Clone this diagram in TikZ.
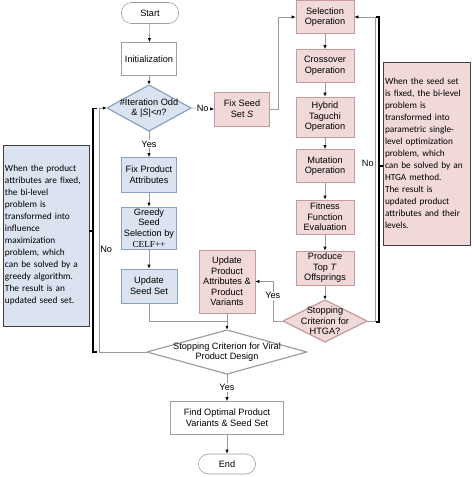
\documentclass[tikz,border=0pt]{standalone}
\usepackage{fontspec}
\setmainfont{Liberation Sans}
\newfontfamily\notefont{Carlito}
\newfontfamily\celffont{Liberation Serif}
\usepackage{tikz}
\usetikzlibrary{arrows.meta, calc}
\usepackage{xcolor}
\definecolor{blueFill}{HTML}{DAE3EF}
\definecolor{blueLine}{HTML}{8AA2C2}
\definecolor{pinkFill}{HTML}{F1D9D9}
\definecolor{pinkLine}{HTML}{C79B9B}
\definecolor{flowLine}{HTML}{9A9A9A}
\newcommand{\flowfont}{\fontsize{9.2pt}{10.6pt}\selectfont}
\newcommand{\notesize}{\notefont\fontsize{9.3pt}{12pt}\selectfont}
\tikzstyle{box} = [
    rectangle, draw=gray!75, fill=white, align=center, inner sep=1pt,
    font=\flowfont, line width=0.6pt
]
\tikzstyle{bluebox} = [box, draw=blueLine, fill=blueFill]
\tikzstyle{pinkbox} = [box, draw=pinkLine, fill=pinkFill]
\tikzstyle{terminal} = [box, rounded corners=10pt, minimum width=57pt, minimum height=21pt]
\tikzstyle{decision} = [
    rectangle, inner sep=0pt, align=center, font=\flowfont,
    path picture={\filldraw[line width=1.2pt, #1]
        (path picture bounding box.north) -- (path picture bounding box.east) --
        (path picture bounding box.south) -- (path picture bounding box.west) -- cycle;}
]
\tikzstyle{note} = [
    rectangle, draw=black!75, line width=0.8pt, align=left, inner xsep=2pt,
    inner ysep=3pt, font=\notesize
]
\tikzstyle{arrow} = [-{Latex[length=4pt, width=3.2pt, color=black]}, line width=0.6pt, color=flowLine]
\tikzstyle{line} = [line width=0.6pt, color=flowLine]
\tikzstyle{bracket} = [line width=1.4pt, black]
\tikzstyle{tag} = [font=\flowfont, text=black, fill=white, inner sep=1pt]
\tikzstyle{lbl} = [font=\flowfont, text=black, inner sep=1pt]

\begin{document}
\begin{tikzpicture}[x=1pt, y=-1pt]
    \useasboundingbox (0,0) rectangle (474,477);

    % Main column
    \node[terminal] (start) at (150,13) {Start};
    \node[box, minimum width=55pt, minimum height=33pt] (init) at (149,59) {Initialization};
    \node[decision={draw=blueLine, fill=blueFill}, minimum width=84pt, minimum height=46pt] (iter) at (149,108) {\#Iteration Odd\\\& |\textit{S}|<\textit{n}?};
    \node[bluebox, minimum width=55pt, minimum height=35pt] (fixattr) at (149,175) {Fix Product\\Attributes};
    \node[bluebox, minimum width=55pt, minimum height=42pt] (greedy) at (149,228) {Greedy\\Seed\\Selection by\\{\celffont CELF++}};
    \node[bluebox, minimum width=56pt, minimum height=34pt] (upseed) at (149,286) {Update\\Seed Set};

    % HTGA column
    \node[pinkbox, minimum width=55pt, minimum height=34pt] (fixseed) at (242,109) {Fix Seed\\Set \textit{S}};
    \node[pinkbox, minimum width=58pt, minimum height=33pt] (select) at (325,17) {Selection\\Operation};
    \node[pinkbox, minimum width=58pt, minimum height=33pt] (cross) at (325,66) {Crossover\\Operation};
    \node[pinkbox, minimum width=58pt, minimum height=40pt] (hybrid) at (325,117) {Hybrid\\Taguchi\\Operation};
    \node[pinkbox, minimum width=58pt, minimum height=33pt] (mutate) at (325,166) {Mutation\\Operation};
    \node[pinkbox, minimum width=58pt, minimum height=34pt] (fitness) at (325,217) {Fitness\\Function\\Evaluation};
    \node[pinkbox, minimum width=58pt, minimum height=34pt] (produce) at (325,268) {Produce\\Top \textit{T}\\Offsprings};
    \node[decision={draw=pinkLine, fill=pinkFill}, minimum width=84pt, minimum height=42pt] (htga) at (325,321) {Stopping\\Criterion for\\HTGA?};
    \node[pinkbox, minimum width=56pt, minimum height=63pt] (upprod) at (227,281.5) {Update\\Product\\Attributes \&\\Product\\Variants};

    % Bottom
    \node[decision={draw=gray!75, fill=white}, minimum width=160pt, minimum height=44pt] (viral) at (227,352) {Stopping Criterion for Viral\\Product Design};
    \node[box, minimum width=113pt, minimum height=33pt] (findopt) at (227,418) {Find Optimal Product\\Variants \& Seed Set};
    \node[terminal, minimum height=20pt] (endn) at (227,464) {End};

    % Notes
    \node[note, fill=blueFill, text width=82pt, minimum height=181pt] (leftnote) at (46,235.5) {When the product\\attributes are fixed,\\the bi-level\\problem is\\transformed into\\influence\\maximization\\problem, which\\can be solved by a\\greedy algorithm.\\The result is an\\updated seed set.};
    \node[note, fill=pinkFill, text width=83pt, minimum height=183pt] (rightnote) at (426.5,153.5) {When the seed set\\is fixed, the bi-level\\problem is\\transformed into\\parametric single-\\level optimization\\problem, which\\can be solved by an\\HTGA method.\\The result is\\updated product\\attributes and their\\levels.};

    % Main arrows
    \draw[arrow] (start) -- (init);
    \draw[arrow] (init) -- (iter);
    \draw[arrow] (iter.south) -- node[tag] {Yes} (fixattr.north);
    \draw[arrow] (fixattr) -- (greedy);
    \draw[arrow] (greedy) -- (upseed);
    \draw[arrow] (iter.east) -- node[tag] {No} (fixseed.west);

    % HTGA arrows
    \draw[arrow] (fixseed.east) -- ++(8,0) |- (select.west);
    \draw[arrow] (select) -- (cross);
    \draw[arrow] (cross) -- (hybrid);
    \draw[arrow] (hybrid) -- (mutate);
    \draw[arrow] (mutate) -- (fitness);
    \draw[arrow] (fitness) -- (produce);
    \draw[arrow] (produce) -- (htga.north);
    \draw[arrow] (htga.west) -- ++(-10,0) |- node[pos=0.32, tag] {Yes} (upprod.east);

    % Merge and loops
    \coordinate (merge) at (227,321);
    \coordinate (loopL) at (99,108);
    \coordinate (loopR) at (375,17);
    \draw[line] (upseed.south) |- (merge);
    \draw[arrow] (upprod.south) -- (viral.north);
    \draw[arrow] (viral.south) -- node[tag] {Yes} (findopt.north);
    \draw[arrow] (findopt) -- (endn);
    \draw[arrow] (viral.west) -| node[pos=0.71, right, lbl] {No} (loopL) -- (iter.west);
    \draw[arrow] (htga.east) -| node[pos=0.76, left, lbl] {No} (loopR) -- (select.east);

    % Brackets
    \coordinate (lbTop) at (97,108.5);
    \coordinate (lbBot) at (97,352);
    \coordinate (rbTop) at (375.5,17);
    \coordinate (rbBot) at (375.5,322);
    \draw[bracket] (lbTop) -- ++(-4,0) |- (lbBot);
    \draw[bracket] (leftnote.east |- 0,231) -- ++(4,0);
    \draw[bracket] (rbTop) -- ++(3.5,0) |- (rbBot);
    \draw[bracket] (rightnote.west |- 0,166) -- ++(-4,0);

\end{tikzpicture}
\end{document}
